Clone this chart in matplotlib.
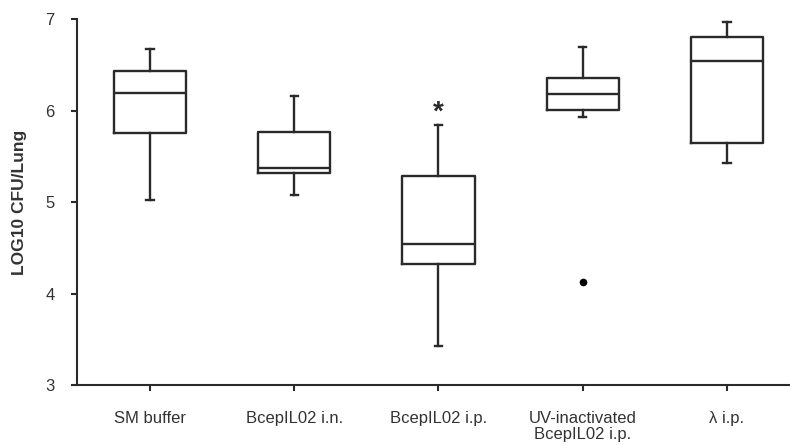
import matplotlib
matplotlib.use("Agg")
import matplotlib.pyplot as plt

plt.rcParams['font.family'] = ['Liberation Sans', 'DejaVu Sans']

categories = ["SM buffer", "BcepIL02 i.n.", "BcepIL02 i.p.", "UV-inactivated\nBcepIL02 i.p.", "λ i.p."]
whislo = [5.02, 5.08, 3.43, 5.93, 5.43]
q1 = [5.76, 5.32, 4.32, 6.01, 5.645]
med = [6.19, 5.37, 4.54, 6.18, 6.54]
q3 = [6.43, 5.765, 5.29, 6.36, 6.81]
whishi = [6.68, 6.165, 5.84, 6.70, 6.97]
fliers = [[], [], [], [4.13], []]
star_label = "*"
star_group = 2
star_value = 5.98
yticks = [3, 4, 5, 6, 7]

stats = []
for i, c in enumerate(categories):
    stats.append(dict(label=c, whislo=whislo[i], q1=q1[i], med=med[i], q3=q3[i],
                      whishi=whishi[i], fliers=fliers[i]))

col = '#2a2a2a'
fig = plt.figure(figsize=(7.9, 4.45), dpi=100)
ax = fig.add_axes([0.0975, 0.135, 0.9025, 0.8215])
lw = 1.7
ax.bxp(stats, positions=range(1, 6), widths=0.5, capwidths=0.05,
       boxprops=dict(color=col, linewidth=lw),
       whiskerprops=dict(color=col, linewidth=lw),
       capprops=dict(color=col, linewidth=lw),
       medianprops=dict(color=col, linewidth=lw),
       flierprops=dict(marker='o', markerfacecolor='black', markeredgecolor='black', markersize=4.5))
ax.text(star_group + 1, star_value, star_label, ha='center', va='center', fontsize=20,
        fontweight='bold', color=col)

ax.set_xlim(0.494, 5.437)
ax.set_ylim(3, 7)
ax.set_yticks(yticks)
ax.spines['top'].set_visible(False)
ax.spines['right'].set_visible(False)
for s in ['left', 'bottom']:
    ax.spines[s].set_color(col)
    ax.spines[s].set_linewidth(1.5)
ax.tick_params(axis='both', colors=col, labelcolor='#333333', labelsize=12, length=4, width=1.5)
ax.tick_params(axis='x', pad=15)
ax.tick_params(axis='y', pad=12)
for t in ax.get_xticklabels():
    t.set_linespacing(1.05)
ax.set_ylabel("LOG10 CFU/Lung", fontsize=12.5, fontweight='bold', color='#333333', labelpad=13)
fig.savefig("out.png", dpi=100)
